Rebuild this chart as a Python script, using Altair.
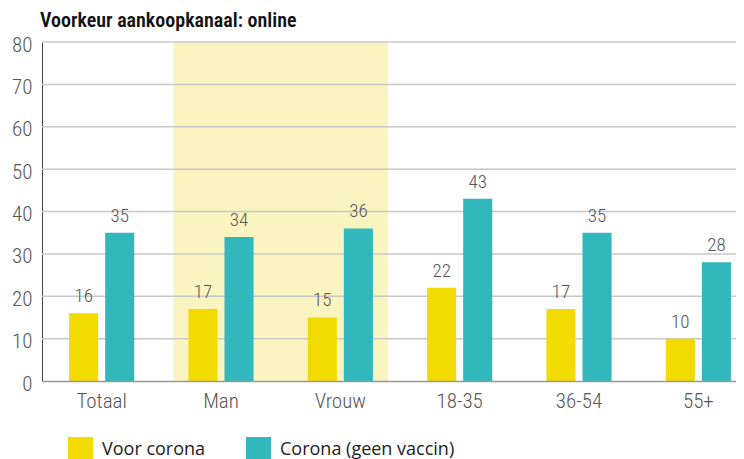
import altair as alt
import pandas as pd

categories = ["Totaal", "Man", "Vrouw", "18-35", "36-54", "55+"]
voor_corona = [16, 17, 15, 22, 17, 10]
corona_geen_vaccin = [35, 34, 36, 43, 35, 28]
series = ["Voor corona", "Corona (geen vaccin)"]
colors = ["#f2db00", "#32b7bc"]
y_ticks = [0, 10, 20, 30, 40, 50, 60, 70, 80]
highlight_start = ["Man"]
highlight_end = ["Vrouw"]

rows = []
for c, v1, v2 in zip(categories, voor_corona, corona_geen_vaccin):
    rows.append({"cat": c, "series": series[0], "value": v1})
    rows.append({"cat": c, "series": series[1], "value": v2})
df = pd.DataFrame(rows)
hl = pd.DataFrame({"start": highlight_start, "end": highlight_end})
grid = pd.DataFrame({"v": y_ticks[1:]})

FONT = "Roboto Condensed, DejaVu Sans Condensed, Roboto"
xscale = alt.Scale(domain=categories, range=[0, 716], paddingInner=0.2, paddingOuter=0.1)
yscale = alt.Scale(domain=[0, 80])
xaxis = alt.Axis(title=None, ticks=False, labelFont=FONT, labelFontSize=21, labelFontWeight=300,
                 labelColor="#555", labelPadding=9, domainColor="#999", domainWidth=1.5,
                 labelAngle=0, grid=False)
yaxis = alt.Axis(title=None, values=y_ticks, ticks=False, grid=False, labelFont=FONT, labelFontSize=21,
                 labelFontWeight=300, labelColor="#555", labelPadding=10, domainColor="#444",
                 domainWidth=1, labelOffset=3)

hl_layer = alt.Chart(hl).mark_rect(color="#faf4c0").encode(
    x=alt.X("start:N", scale=xscale, axis=xaxis, bandPosition=0),
    x2=alt.X2("end:N", bandPosition=1),
    y=alt.value(0),
    y2=alt.value(339),
)

grid_layer = alt.Chart(grid).mark_rule(color="#c8c8c8", strokeWidth=1.5).encode(
    y=alt.Y("v:Q", scale=yscale, axis=yaxis)
)

enc = dict(
    x=alt.X("cat:N", scale=xscale, axis=xaxis),
    xOffset=alt.XOffset("series:N", scale=alt.Scale(domain=series, paddingInner=0.194, paddingOuter=0.42)),
    y=alt.Y("value:Q", scale=yscale, axis=yaxis),
)

bars = alt.Chart(df).mark_bar().encode(
    color=alt.Color("series:N", scale=alt.Scale(domain=series, range=colors),
                    legend=alt.Legend(title=None, orient="none", legendX=26, legendY=395,
                                      direction="horizontal", symbolType="square", symbolSize=625,
                                      symbolStrokeWidth=0, symbolOpacity=1, labelLimit=400,
                                      labelFont="Open Sans", labelFontSize=18, labelColor="#222",
                                      labelOffset=9, columnPadding=40)),
    **enc,
)

labels = alt.Chart(df).mark_text(baseline="bottom", dy=-7, font=FONT, fontSize=19, fontWeight=300,
                                 color="#555").encode(
    text=alt.Text("value:Q"),
    **enc,
)

chart = alt.layer(hl_layer, grid_layer, bars, labels).properties(
    width=694,
    height=339,
    title=alt.TitleParams("Voorkeur aankoopkanaal: online", anchor="start", frame="group",
                          font=FONT, fontSize=20, fontWeight=600, color="#111",
                          baseline="bottom", offset=4, dx=-2, dy=21),
    autosize=alt.AutoSizeParams(type="none"),
    padding={"left": 34, "top": 34, "right": 0, "bottom": 78},
).configure_view(stroke=None)

chart.save("out.html", embed_options={"renderer": "svg", "actions": False})
